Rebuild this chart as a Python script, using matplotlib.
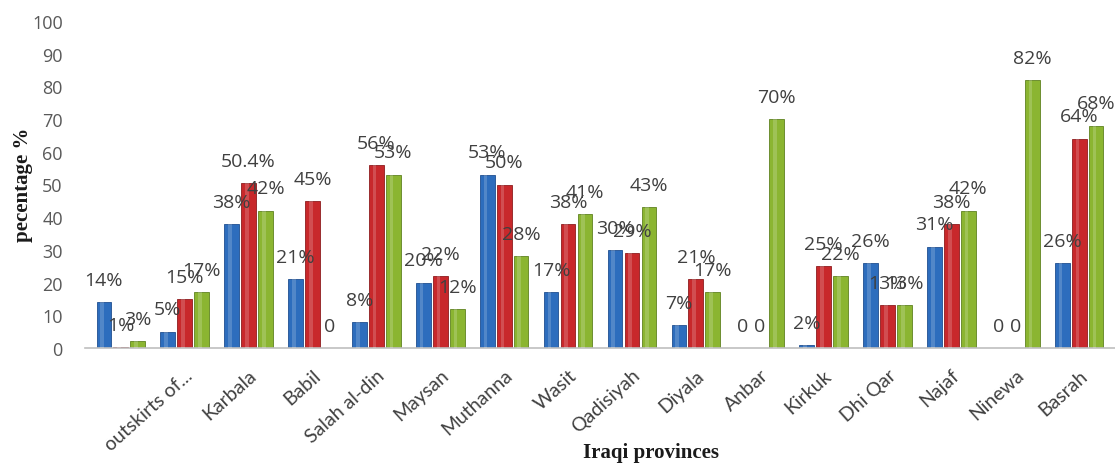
import matplotlib.pyplot as plt
import numpy as np

# categories (first group has no label in the original)
provinces = ['', 'outskirts of...', 'Karbala', 'Babil', 'Salah al-din', 'Maysan',
             'Muthanna', 'Wasit', 'Qadisiyah', 'Diyala', 'Anbar', 'Kirkuk',
             'Dhi Qar', 'Najaf', 'Ninewa', 'Basrah']

# bar heights
blue = [14, 5, 38, 21, 8, 20, 53, 17, 30, 7, 0, 1, 26, 31, 0, 26]
red = [0.3, 15, 50.4, 45, 56, 22, 50, 38, 29, 21, 0, 25, 13, 38, 0, 64]
green = [2, 17, 42, 0, 53, 12, 28, 41, 43, 17, 70, 22, 13, 42, 82, 68]

# data labels as printed on the chart
blue_lbl = ['14%', '5%', '38%', '21%', '8%', '20%', '53%', '17%', '30%', '7%', '0', '2%', '26%', '31%', '0', '26%']
red_lbl = ['1%', '15%', '50.4%', '45%', '56%', '22%', '50%', '38%', '29%', '21%', '0', '25%', '13%', '38%', '0', '64%']
green_lbl = ['3%', '17%', '42%', '0', '53%', '12%', '28%', '41%', '43%', '17%', '70%', '22%', '13%', '42%', '82%', '68%']

colors = ['#2d6dbd', '#c8282b', '#8bb531']
edges = ['#1f4f90', '#8e1c1e', '#5f8220']

fig = plt.figure(figsize=(11.15, 4.64), dpi=100)
ax = fig.add_axes([85 / 1115, 1 - 349 / 464, 1030 / 1115, 327 / 464])

x = np.arange(len(provinces))
w = 0.23
step = 0.265
for k, (vals, lbls) in enumerate([(blue, blue_lbl), (red, red_lbl), (green, green_lbl)]):
    pos = x + (k - 1) * step
    ax.bar(pos, vals, width=w, color=colors[k], edgecolor=edges[k], linewidth=0.6, zorder=2)
    # light highlight stripe to hint at the 3D cylinders
    ax.bar(pos - w * 0.12, vals, width=w * 0.25, color='white', alpha=0.18, linewidth=0, zorder=3)
    for xi, v, t in zip(pos, vals, lbls):
        ax.annotate(t, (xi, v), xytext=(0, 16), textcoords='offset points',
                    ha='center', va='center', fontsize=14, color='#404040',
                    family='Open Sans', zorder=4)

ax.set_xlim(-0.56, 15.56)
ax.set_ylim(0, 100)
ax.set_yticks(np.arange(0, 101, 10))
ax.set_xticks(x)
ax.set_xticklabels(provinces, rotation=42, ha='right', rotation_mode='anchor',
                   fontsize=14, color='#404040', family='Lato')
for lab in ax.get_yticklabels():
    lab.set_family('Open Sans')
ax.tick_params(axis='y', length=0, labelsize=13, labelcolor='#595959', pad=16)
ax.tick_params(axis='x', length=0, pad=13)

for s in ['top', 'right', 'left']:
    ax.spines[s].set_visible(False)
ax.spines['bottom'].set_color('#bfbfbf')
ax.spines['bottom'].set_linewidth(1.2)

fig.text(23 / 1115, 1 - 185 / 464, 'pecentage %', rotation=90, family='Liberation Serif',
         fontweight='bold', fontsize=15, color='#1a1a1a', ha='center', va='center')
fig.text(651 / 1115, 1 - 453 / 464, 'Iraqi provinces', family='Liberation Serif',
         fontweight='bold', fontsize=15, color='#1a1a1a', ha='center', va='center')

fig.savefig('out.png', dpi=100)
